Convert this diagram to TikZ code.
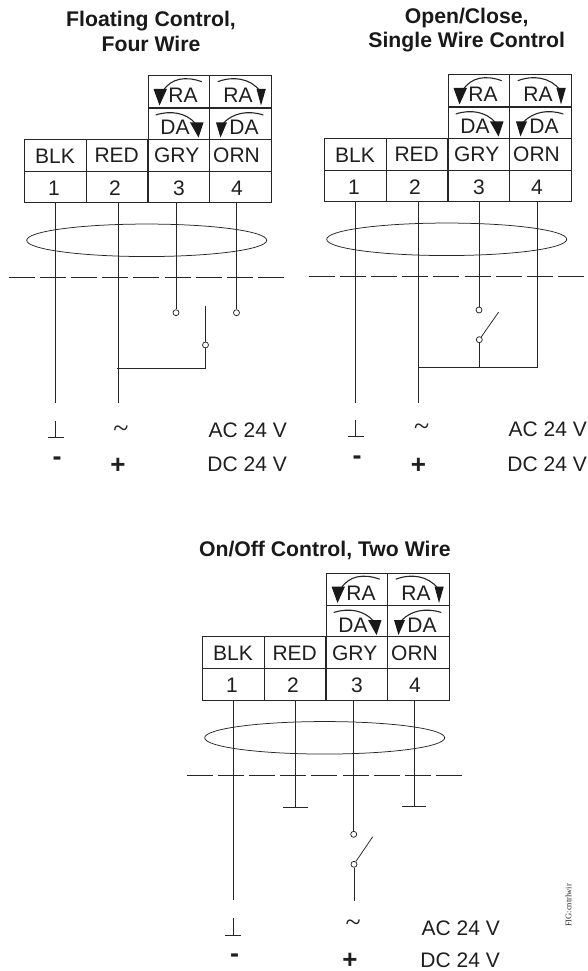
\documentclass[tikz,border=0pt]{standalone}
\usepackage{fontspec}
\setmainfont{Liberation Sans}
\newfontfamily\lab{Liberation Sans}
\newfontfamily\ttl{Liberation Sans Bold}
\newfontfamily\figf{Liberation Serif}
\usetikzlibrary{shapes.geometric}
\tikzset{
  wire/.style={line width=0.75pt,draw=black!85},
  cellbox/.style={draw=black!85,line width=0.9pt,minimum width=61.5pt,inner sep=0pt,outer sep=0pt},
  rowa/.style={cellbox,minimum height=32pt},
  cablering/.style={draw=black!85,line width=0.75pt,ellipse,minimum width=240pt,minimum height=32.5pt,inner sep=0pt},
  shieldline/.style={wire,dash pattern=on 26pt off 5.2pt},
  pin/.style={circle,draw=black!85,fill=white,line width=0.75pt,minimum size=6pt,inner sep=0pt},
  txt/.style={anchor=base,inner sep=0pt,text=black!88,font=\lab\fontsize{21}{22}\selectfont},
  ttltxt/.style={anchor=base,inner sep=0pt,text=black!90,font=\ttl\fontsize{21.2}{22}\selectfont},
  symb/.style={inner sep=0pt,text=black!88},
  arc/.style={line width=1.1pt,draw=black!85},
  tip/.style={fill=black!90,draw=none},
}
% #1 prefix, #2 dx, #3 dy, #4 wire 3 x, #5 wire 4 x
\newcommand{\termblock}[5]{
\begin{scope}[shift={(#2,#3)}]
  \node[rowa] (#1t3) at (178.75,91.75) {};
  \node[rowa] (#1t4) at (240.25,91.75) {};
  \node[rowa,minimum height=31pt] (#1d3) at (178.75,123.5) {};
  \node[rowa,minimum height=31pt] (#1d4) at (240.25,123.5) {};
  \node[rowa] (#1c1) at (55.5,155) {};
  \node[rowa] (#1c2) at (117,155) {};
  \node[rowa] (#1c3) at (178.75,155) {};
  \node[rowa] (#1c4) at (240.25,155) {};
  \node[rowa,minimum height=31.5pt] (#1n1) at (55.5,186.75) {};
  \node[rowa,minimum height=31.5pt] (#1n2) at (117,186.75) {};
  \node[rowa,minimum height=31.5pt] (#1n3) at (178.75,186.75) {};
  \node[rowa,minimum height=31.5pt] (#1n4) at (240.25,186.75) {};
  \node[txt] (#1lra3) at (183,102.7) {RA};
  \node[txt] (#1lra4) at (238,102.7) {RA};
  \node[txt] (#1lda3) at (175,134.5) {DA};
  \node[txt] (#1lda4) at (244,134.5) {DA};
  \node[txt] (#1l1) at (55,163.3) {BLK};
  \node[txt] (#1l2) at (116.7,162.7) {RED};
  \node[txt] (#1l3) at (176.7,162.7) {GRY};
  \node[txt] (#1l4) at (236.5,162.7) {ORN};
  \node[txt] (#1m1) at (54,195) {1};
  \node[txt] (#1m2) at (115,195) {2};
  \node[txt] (#1m3) at (179,195) {3};
  \node[txt] (#1m4) at (237,195) {4};
  % rotation arcs and tips
  \draw[arc] (201.7,81.7) .. controls (186,76) and (171,78) .. (163,91);
  \fill[tip] (153.5,89) -- (167,89) -- (159.5,105.5) -- cycle;
  \draw[arc] (217.7,81.7) .. controls (233,76) and (250,78) .. (260,91);
  \fill[tip] (256.5,89) -- (265.8,89) -- (261,105.5) -- cycle;
  \draw[arc] (155.7,115) .. controls (171,110) and (186,113) .. (195,123);
  \fill[tip] (190,122.5) -- (203.5,122.5) -- (198.5,137.5) -- cycle;
  \draw[arc] (263.3,115) .. controls (248,110) and (233,113) .. (223.5,123);
  \fill[tip] (216,122.5) -- (227,122.5) -- (220.5,137.5) -- cycle;
  \node[cablering] (#1ring) at (146.7,240.3) {};
  \coordinate (#1sl) at (8.5,277.7);
  \coordinate (#1sr) at (286,277.7);
  \draw[shieldline] (#1sl) -- (#1sr);
  \coordinate (#1x3) at (#4,0);
  \coordinate (#1x4) at (#5,0);
\end{scope}}
\begin{document}
\begin{tikzpicture}[x=1pt,y=-1pt]
\useasboundingbox (0,0) rectangle (588,971);
\fill[white] (0,0) rectangle (588,971);
% Titles
\node[ttltxt] (t1a) at (151,27) {Floating Control,};
\node[ttltxt] (t1b) at (151,52) {Four Wire};
\node[ttltxt] (t2a) at (466.7,24) {Open/Close,};
\node[ttltxt] (t2b) at (466.7,48) {Single Wire Control};
\node[ttltxt] (t3a) at (324.8,556.7) {On/Off Control, Two Wire};

% Floating control
\termblock{a}{0}{0}{176}{236.5}
\coordinate (ae1) at (55.5,403);
\coordinate (ae2) at (118,403);
\node[pin] (ap3) at (176,312.7) {};
\node[pin] (ap4) at (236.5,312.7) {};
\node[pin] (ap5) at (205.5,345) {};
\coordinate (ab) at (205.5,305.5);
\coordinate (aj) at (205.5,368);
\coordinate (aj2) at (116.5,368);
\draw[wire] (an1.south -| ae1) -- (ae1);
\draw[wire] (an2.south -| ae2) -- (ae2);
\draw[wire] (an3.south -| ap3) -- (ap3);
\draw[wire] (an4.south -| ap4) -- (ap4);
\draw[wire] (ab) -- (ap5);
\draw[wire] (ap5) -- (aj) -- (aj2);
% supply labels
\coordinate (ag1) at (55.5,421);
\coordinate (ag2) at (55.5,437);
\draw[wire] (ag1) -- (ag2);
\draw[wire] ([xshift=-8pt]ag2) -- ([xshift=8pt]ag2);
\node[symb,font=\figf\fontsize{28}{28}\selectfont] (at) at (121,431.5) {\char"7E};
\node[symb,font=\ttl\fontsize{27}{27}\selectfont] (am) at (57,461) {-};
\node[symb,font=\ttl\fontsize{26}{26}\selectfont] (ap) at (118,466) {+};
\node[txt,anchor=base east] (aac) at (287,437.7) {AC 24 V};
\node[txt,anchor=base east] (adc) at (287,471.7) {DC 24 V};

% Open/close
\termblock{b}{300}{-1}{179}{237.5}
\coordinate (be1) at (355.5,402.7);
\coordinate (be2) at (418,402.7);
\node[pin] (bp3) at (479,310) {};
\node[pin] (bp5) at (479.3,339.7) {};
\coordinate (bb) at (498.7,312);
\coordinate (bj) at (479.3,367.3);
\coordinate (bj2) at (418,367.3);
\coordinate (bj4) at (537.5,367.3);
\draw[wire] (bn1.south -| be1) -- (be1);
\draw[wire] (bn2.south -| be2) -- (be2);
\draw[wire] (bn3.south -| bp3) -- (bp3);
\draw[wire] (bn4.south -| bj4) -- (bj4);
\draw[wire] (bp5) -- (bb);
\draw[wire] (bp5) -- (bj);
\draw[wire] (bj2) -- (bj4);
\coordinate (bg1) at (355.5,420);
\coordinate (bg2) at (355.5,436.5);
\draw[wire] (bg1) -- (bg2);
\draw[wire] ([xshift=-8pt]bg2) -- ([xshift=8pt]bg2);
\node[symb,font=\figf\fontsize{28}{28}\selectfont] (bt) at (421.7,429.5) {\char"7E};
\node[symb,font=\ttl\fontsize{27}{27}\selectfont] (bm) at (357,460) {-};
\node[symb,font=\ttl\fontsize{26}{26}\selectfont] (bp) at (418.5,466) {+};
\node[txt,anchor=base east] (bac) at (587,436.7) {AC 24 V};
\node[txt,anchor=base east] (bdc) at (587,471.7) {DC 24 V};

% On/off
\termblock{c}{178}{497.5}{175.7}{236}
\coordinate (ce1) at (233.3,900);
\coordinate (ce2) at (295.7,807.3);
\coordinate (ce4) at (414,806.7);
\node[pin] (cp3) at (353.7,834.3) {};
\node[pin] (cp5) at (354,864.3) {};
\coordinate (cb) at (372.7,836.7);
\coordinate (cj) at (354,901);
\draw[wire] (cn1.south -| ce1) -- (ce1);
\draw[wire] (cn2.south -| ce2) -- (ce2);
\draw[wire] ([xshift=-12.3pt]ce2) -- ([xshift=12.3pt]ce2);
\draw[wire] (cn3.south -| cp3) -- (cp3);
\draw[wire] (cn4.south -| ce4) -- (ce4);
\draw[wire] ([xshift=-12.3pt]ce4) -- ([xshift=12.3pt]ce4);
\draw[wire] (cp5) -- (cb);
\draw[wire] (cp5) -- (cj);
\coordinate (cg1) at (233.3,918);
\coordinate (cg2) at (233.3,935);
\draw[wire] (cg1) -- (cg2);
\draw[wire] ([xshift=-8pt]cg2) -- ([xshift=8pt]cg2);
\node[symb,font=\figf\fontsize{28}{28}\selectfont] (ct) at (353.3,926) {\char"7E};
\node[symb,font=\ttl\fontsize{27}{27}\selectfont] (cm) at (234.5,958) {-};
\node[symb,font=\ttl\fontsize{26}{26}\selectfont] (cpl) at (350,960.5) {+};
\node[txt,anchor=base east] (cac) at (500,935) {AC 24 V};
\node[txt,anchor=base east] (cdc) at (500,967.5) {DC 24 V};
\node[rotate=90,inner sep=0pt,text=black!85,font=\figf\fontsize{8.5}{9}\selectfont] (fig) at (568.5,905.5) {FIG:cntrlwir};
\end{tikzpicture}
\end{document}
